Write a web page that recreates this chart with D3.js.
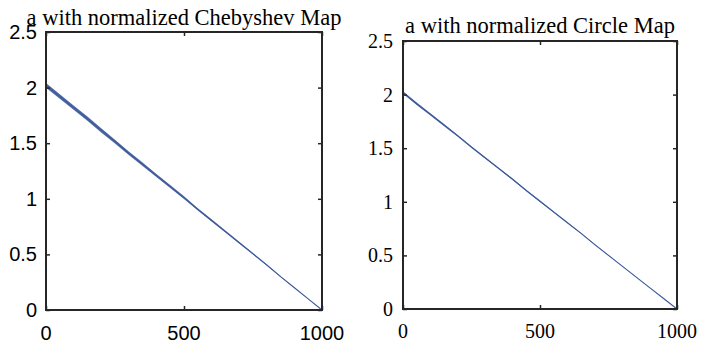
<!DOCTYPE html>
<html>
<head>
<meta charset="utf-8">
<script src="https://cdn.jsdelivr.net/npm/d3@7"></script>
<style>
  body { margin: 0; background: #fff; }
  svg { display: block; }
</style>
</head>
<body>
<svg id="chart" width="701" height="344"></svg>
<script>
// Iteration index and the value of the control parameter "a"
const iterations = [0, 50, 100, 150, 200, 250, 300, 350, 400, 450, 500,
                    550, 600, 650, 700, 750, 800, 850, 900, 950, 1000];

// Chebyshev-driven run: centre of the trace and half-width of its jitter band
const chebyshevMid = [2.02, 1.92, 1.82, 1.72, 1.615, 1.515, 1.41, 1.31, 1.21, 1.11, 1.01,
                      0.905, 0.805, 0.705, 0.605, 0.505, 0.405, 0.30, 0.20, 0.10, 0];
const chebyshevSpread = [0.022, 0.021, 0.020, 0.019, 0.019, 0.017, 0.016, 0.016, 0.014, 0.013, 0.012,
                         0.011, 0.010, 0.009, 0.008, 0.007, 0.005, 0.004, 0.003, 0.002, 0];

// Circle-map-driven run
const circleMid = [2.02, 1.915, 1.815, 1.715, 1.615, 1.51, 1.41, 1.31, 1.21, 1.105, 1.005,
                   0.905, 0.805, 0.705, 0.60, 0.50, 0.40, 0.30, 0.20, 0.10, 0];
const circleSpread = [0.012, 0.011, 0.011, 0.010, 0.009, 0.009, 0.008, 0.007, 0.007, 0.006, 0.006,
                      0.005, 0.004, 0.004, 0.003, 0.003, 0.002, 0.002, 0.001, 0.001, 0];

// Axis ticks
const xTicks = [0, 500, 1000];
const xTickLabels = ["0", "500", "1000"];
const yTicks = [0, 0.5, 1, 1.5, 2, 2.5];
const yTickLabels = ["0", "0.5", "1", "1.5", "2", "2.5"];

const titles = ["a with normalized Chebyshev Map", "a with normalized Circle Map"];

const svg = d3.select("#chart");
const lineColor = "#3d5a9b";
const axisColor = "#262626";

const panels = [
  {
    title: titles[0], mid: chebyshevMid, spread: chebyshevSpread,
    left: 46, right: 322, top: 32, bottom: 310,
    tickFont: "'Liberation Sans', Arial, sans-serif", tickSize: 20,
    xLabelY: 340, yLabelGap: 9, titleY: 25
  },
  {
    title: titles[1], mid: circleMid, spread: circleSpread,
    left: 403, right: 677, top: 41, bottom: 309,
    tickFont: "'Liberation Serif', 'Times New Roman', serif", tickSize: 20,
    xLabelY: 338, yLabelGap: 10, titleY: 33
  }
];

panels.forEach(p => {
  const x = d3.scaleLinear().domain([0, 1000]).range([p.left, p.right]);
  const y = d3.scaleLinear().domain([0, 2.5]).range([p.bottom, p.top]);
  const g = svg.append("g");

  // jitter band and centre trace
  const pts = iterations.map((t, i) => ({ t, m: p.mid[i], s: p.spread[i] }));
  const band = d3.area()
    .x(d => x(d.t))
    .y0(d => y(d.m - d.s))
    .y1(d => y(d.m + d.s));
  g.append("path").datum(pts)
    .attr("d", band)
    .attr("fill", lineColor)
    .attr("fill-opacity", 0.9);
  g.append("path").datum(pts)
    .attr("d", d3.line().x(d => x(d.t)).y(d => y(d.m)))
    .attr("fill", "none")
    .attr("stroke", lineColor)
    .attr("stroke-width", 1.1);

  // inward ticks on all four sides
  const tickLen = 4;
  const yAxisL = d3.axisLeft(y).tickValues(yTicks).tickSizeInner(-tickLen).tickSizeOuter(0)
    .tickFormat((d, i) => yTickLabels[i]).tickPadding(p.yLabelGap);
  const yAxisR = d3.axisRight(y).tickValues(yTicks).tickSizeInner(-tickLen).tickSizeOuter(0).tickFormat("");
  const xAxisB = d3.axisBottom(x).tickValues(xTicks).tickSizeInner(-tickLen).tickSizeOuter(0).tickFormat("");
  const xAxisT = d3.axisTop(x).tickValues(xTicks).tickSizeInner(-tickLen).tickSizeOuter(0).tickFormat("");

  const ax = [
    g.append("g").attr("transform", `translate(${p.left},0)`).call(yAxisL),
    g.append("g").attr("transform", `translate(${p.right},0)`).call(yAxisR),
    g.append("g").attr("transform", `translate(0,${p.bottom})`).call(xAxisB),
    g.append("g").attr("transform", `translate(0,${p.top})`).call(xAxisT)
  ];
  ax.forEach(a => {
    a.select(".domain").remove();
    a.selectAll(".tick line").attr("stroke", axisColor).attr("stroke-width", 1.5);
  });
  ax[0].selectAll(".tick text")
    .attr("fill", "#000")
    .style("font-family", p.tickFont)
    .style("font-size", p.tickSize + "px");

  // x tick labels
  g.selectAll(".xlab").data(xTicks).enter().append("text")
    .attr("x", d => x(d))
    .attr("y", p.xLabelY)
    .attr("text-anchor", "middle")
    .attr("fill", "#000")
    .style("font-family", p.tickFont)
    .style("font-size", p.tickSize + "px")
    .text((d, i) => xTickLabels[i]);

  // axes box
  g.append("rect")
    .attr("x", p.left).attr("y", p.top)
    .attr("width", p.right - p.left).attr("height", p.bottom - p.top)
    .attr("fill", "none")
    .attr("stroke", axisColor)
    .attr("stroke-width", 2);

  // title
  g.append("text")
    .attr("x", (p.left + p.right) / 2)
    .attr("y", p.titleY)
    .attr("text-anchor", "middle")
    .attr("fill", "#000")
    .style("font-family", "'Liberation Serif', 'Times New Roman', serif")
    .style("font-size", "22.5px")
    .text(p.title);
});
</script>
</body>
</html>
